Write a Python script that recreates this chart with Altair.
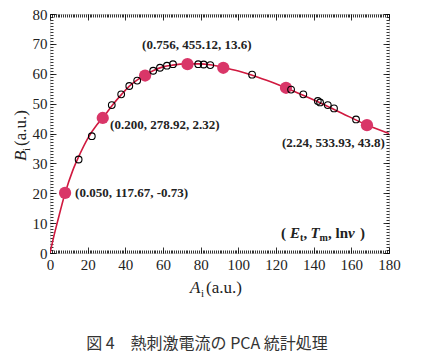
import altair as alt
import pandas as pd

# ---- data ----
curve_x = [0, 2, 4, 8, 12, 16, 20, 25, 28, 33, 38, 42, 46, 50, 55, 60, 65, 73, 80, 85, 92, 100, 107, 115, 125, 135, 145, 155, 168, 180]
curve_y = [0, 5.5, 10.5, 20.0, 27.5, 33.3, 38.3, 43.0, 45.2, 49.4, 53.1, 55.8, 57.8, 59.4, 61.1, 62.3, 62.9, 63.3, 63.3, 63.0, 62.1, 60.9, 59.6, 57.8, 55.3, 52.6, 49.8, 46.8, 42.9, 40.0]

open_x = [15.2, 22.2, 32.8, 37.8, 42.1, 46.3, 54.8, 58.4, 62.1, 65.3, 78.7, 81.6, 85.1, 107.3, 128.0, 134.5, 142.2, 143.4, 147.5, 150.8, 162.5]
open_y = [31.3, 39.1, 49.5, 53.1, 55.9, 57.7, 61.0, 62.0, 62.7, 63.2, 63.2, 63.1, 62.9, 59.7, 54.7, 53.1, 50.9, 50.4, 49.5, 48.4, 44.7]

red_x = [8.0, 28.0, 50.5, 73.0, 92.0, 125.3, 168.3]
red_y = [20.1, 45.2, 59.4, 63.2, 62.0, 55.3, 42.8]

label_text = ["(0.050, 117.67, -0.73)", "(0.200, 278.92, 2.32)", "(0.756, 455.12, 13.6)", "(2.24, 533.93, 43.8)"]
label_x = [13.3, 31.9, 48.9, 123.2]
label_y = [20.1, 42.8, 69.6, 36.8]

param_anchor_x = [122.7]
param_anchor_y = [5.0]

x_major = list(range(0, 181, 20))
y_major = list(range(0, 81, 10))
x_minor = list(range(0, 181, 1))
y_minor = list(range(0, 81, 1))

caption = "図 4　熱刺激電流の PCA 統計処理"

W, H = 339, 239
XD = [0, 180]
YD = [0, 80]
SERIF = "Liberation Serif"
LINE_RED = "#d0193f"
DOT_RED = "#d93668"

curve_df = pd.DataFrame({"x": curve_x, "y": curve_y})
open_df = pd.DataFrame({"x": open_x, "y": open_y})
red_df = pd.DataFrame({"x": red_x, "y": red_y})
label_df = pd.DataFrame({"x": label_x, "y": label_y, "t": label_text})
anchor_df = pd.DataFrame({"x": param_anchor_x, "y": param_anchor_y})


def tick_axis(orient, values, size, offset):
    return alt.Axis(orient=orient, values=values, ticks=True, tickSize=size,
                    tickColor="black", tickWidth=0.8, labels=False, domain=False,
                    grid=False, title=None, offset=offset)


def label_axis(orient, values, pad):
    return alt.Axis(orient=orient, values=values, ticks=False, labels=True,
                    labelFont=SERIF, labelFontSize=15, labelColor="#222",
                    labelPadding=pad, labelFlush=False, labelOverlap=False,
                    domain=False, grid=False, title=None)


def X(axis):
    return alt.X("x:Q", scale=alt.Scale(domain=XD, nice=False, zero=False), axis=axis)


def Y(axis):
    return alt.Y("y:Q", scale=alt.Scale(domain=YD, nice=False, zero=False), axis=axis)


line = alt.Chart(curve_df).mark_line(color=LINE_RED, strokeWidth=1.6, interpolate="monotone", clip=True).encode(
    x=X(label_axis("bottom", x_major, 4)),
    y=Y(label_axis("left", y_major, 3)),
)

reds = alt.Chart(red_df).mark_point(filled=True, color=DOT_RED, size=150, opacity=1).encode(
    x=X(tick_axis("top", x_major, 6, -H)),
    y=Y(tick_axis("right", y_major, 6, -W)),
)

opens = alt.Chart(open_df).mark_point(filled=False, color="black", size=45, strokeWidth=1.1, opacity=1).encode(
    x=X(tick_axis("top", x_minor, 3, -H)),
    y=Y(tick_axis("right", y_minor, 3, -W)),
)

labels = alt.Chart(label_df).mark_text(font=SERIF, fontWeight="bold", fontSize=13, align="left",
                                       baseline="middle", color="#222").encode(
    x=X(tick_axis("bottom", x_major, 6, -H)),
    y=Y(tick_axis("left", y_major, 6, -W)),
    text="t:N",
)

# ( E_t, T_m, ln v ) built from pieces
pieces = [
    ("(", 0, 0, 15, "normal"),
    ("E", 9, 0, 15, "italic"),
    ("t", 19, 3, 10, "normal"),
    (",", 22.5, 0, 15, "normal"),
    ("T", 29.5, 0, 15, "italic"),
    ("m", 38.5, 3, 10, "normal"),
    (",", 47, 0, 15, "normal"),
    ("ln", 54.5, 0, 15, "normal"),
    ("ν", 67, 0, 15, "italic"),
    (")", 79, 0, 15, "normal"),
]
piece_layers = []
for i, (txt, dx, dy, fs, style) in enumerate(pieces):
    if i == 0:
        xa, ya = tick_axis("bottom", x_minor, 3, -H), tick_axis("left", y_minor, 3, -W)
    else:
        xa, ya = None, None
    piece_layers.append(
        alt.Chart(anchor_df).mark_text(text=txt, font=SERIF, fontWeight="bold", fontStyle=style,
                                       fontSize=fs, align="left", baseline="alphabetic",
                                       dx=dx, dy=dy, color="#222").encode(x=X(xa), y=Y(ya))
    )

one = pd.DataFrame({"k": [0]})


def free_text(txt, px, py, fs, style="normal", angle=0, font=SERIF, color="#222", align="left", baseline="alphabetic"):
    kw = dict(text=txt, font=font, fontSize=fs, fontStyle=style, align=align, baseline=baseline, color=color)
    if angle:
        kw["angle"] = angle
    return alt.Chart(one).mark_text(**kw).encode(x=alt.value(px), y=alt.value(py))


titles = [
    free_text("A", 140, 279, 17, "italic"),
    free_text("i", 151, 283, 11),
    free_text("(a.u.)", 156, 279, 17),
    free_text("B", -24, 147, 17, "italic", angle=270),
    free_text("i", -20, 137, 11, angle=270),
    free_text("(a.u.)", -24, 132, 17, angle=270),
    free_text(caption, 157, 330, 16, font="Noto Sans CJK JP", color="#333", align="center", baseline="middle"),
]

chart = alt.layer(line, reds, opens, labels, *piece_layers, *titles).resolve_axis(
    x="independent", y="independent"
).properties(
    width=W, height=H,
    padding={"left": 50, "top": 14, "right": 43, "bottom": 100},
    autosize=alt.AutoSizeParams(type="none"),
).configure_view(stroke="black", strokeWidth=1.2).configure(background="white")

chart.save("out.html", embed_options={"renderer": "svg", "actions": False})
